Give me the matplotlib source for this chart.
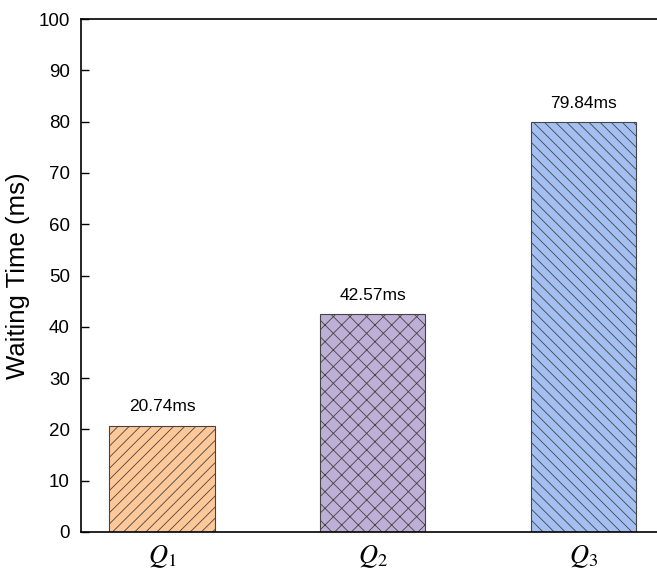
import matplotlib
matplotlib.use("Agg")
import matplotlib.pyplot as plt

categories = ["$Q_1$", "$Q_2$", "$Q_3$"]
values = [20.74, 42.57, 79.84]
labels = ["20.74ms", "42.57ms", "79.84ms"]
colors = ["#FFC899", "#BEAFD6", "#A4C0F3"]
hatches = ["///", "xx", "\\\\\\"]
yticks = [0, 10, 20, 30, 40, 50, 60, 70, 80, 90, 100]

plt.rcParams["font.family"] = ["Liberation Sans", "DejaVu Sans"]
plt.rcParams["mathtext.fontset"] = "stix"
plt.rcParams["hatch.color"] = "#3a3a3a"
plt.rcParams["hatch.linewidth"] = 0.6

fig = plt.figure(figsize=(6.57, 5.79), dpi=100)
ax = fig.add_axes([81 / 657, 47 / 579, 1 - 81 / 657 + 0.01, (532 - 19) / 579])

x = list(range(len(categories)))
for xi, v, c, h in zip(x, values, colors, hatches):
    ax.bar(xi, v, width=0.5, color=c, edgecolor="#444444", linewidth=0.8, hatch=h)

for xi, v, lab in zip(x, values, labels):
    ax.annotate(lab, (xi, v), xytext=(0, 8), textcoords="offset points",
                ha="center", va="bottom", fontsize=12.5)

ax.set_xlim(-0.385, 2.38)
ax.set_ylim(0, 100)
ax.set_yticks(yticks)
ax.set_xticks(x)
ax.set_xticklabels(categories, fontsize=19)
ax.tick_params(axis="x", length=0, pad=8)
ax.tick_params(axis="y", direction="in", length=6, width=1, labelsize=13.5, pad=8)
ax.set_ylabel("Waiting Time (ms)", fontsize=18.5, labelpad=6)
ax.spines["right"].set_visible(False)
for s in ["left", "top", "bottom"]:
    ax.spines[s].set_linewidth(1.2)

fig.savefig("out.png", dpi=100)
